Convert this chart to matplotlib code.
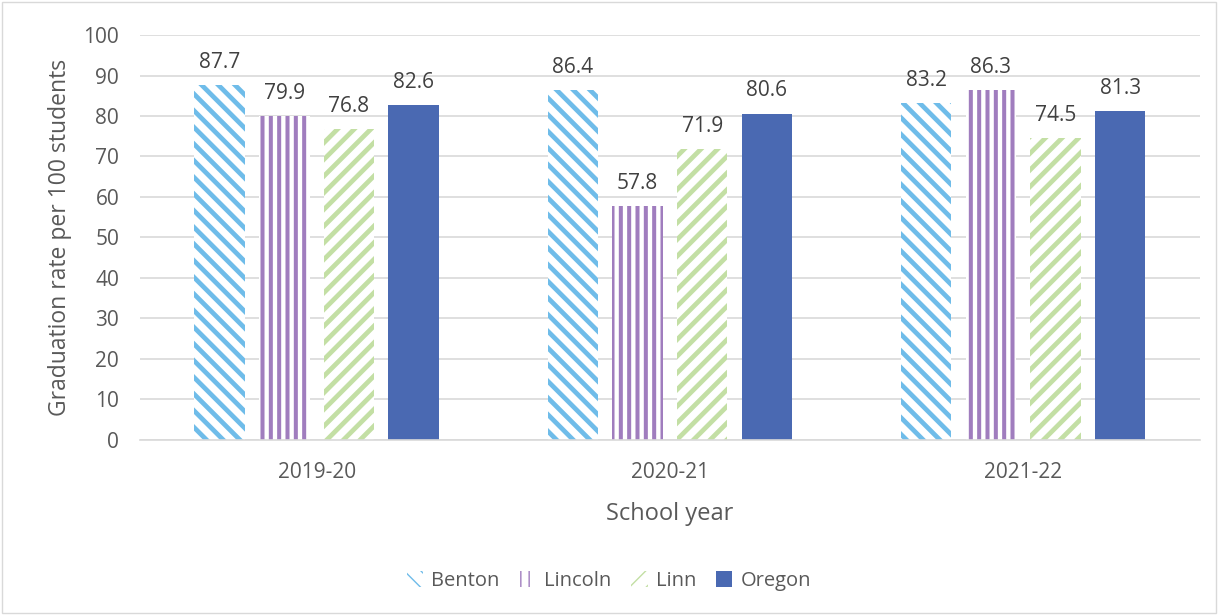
import matplotlib.pyplot as plt
import numpy as np

plt.rcParams['font.family'] = ['Open Sans', 'DejaVu Sans']

# chart data
years = ['2019-20', '2020-21', '2021-22']
counties = ['Benton', 'Lincoln', 'Linn', 'Oregon']
benton = [87.7, 86.4, 83.2]
lincoln = [79.9, 57.8, 86.3]
linn = [76.8, 71.9, 74.5]
oregon = [82.6, 80.6, 81.3]

colors = ['#6FBCE9', '#A07DBE', '#C3DFA4', '#4A69B2']
hatches = ['\\\\', '||', '//', None]
hatch_lw = [3.4, 2.9, 3.4, 1.0]

fig = plt.figure(figsize=(12.18, 6.15), dpi=100)
ax = fig.add_axes([0.115, 0.285, 0.87, 0.658])

x = np.arange(len(years))
slot = 0.183
width = 0.143
series = [benton, lincoln, linn, oregon]
for i, vals in enumerate(series):
    pos = x + (i - 1.5) * slot
    with plt.rc_context({'hatch.linewidth': hatch_lw[i]}):
        if hatches[i] is None:
            bars = ax.bar(pos, vals, width, color=colors[i], label=counties[i], zorder=2)
        else:
            bars = ax.bar(pos, vals, width, facecolor='white', edgecolor=colors[i],
                          hatch=hatches[i], linewidth=0, label=counties[i], zorder=2)
    for b, v in zip(bars, vals):
        ax.text(b.get_x() + b.get_width() / 2, v + 3, f'{v:.1f}', ha='center',
                va='bottom', fontsize=15, color='#404040')

ax.set_ylim(0, 100)
ax.set_xlim(-0.5, 2.5)
ax.set_yticks(range(0, 101, 10))
ax.set_xticks(x)
ax.set_xticklabels(years)
ax.tick_params(length=0, labelsize=15, labelcolor='#595959')
ax.tick_params(axis='y', pad=15)
ax.tick_params(axis='x', pad=16)
ax.yaxis.grid(True, color='#D9D9D9', linewidth=1.2, zorder=0)
for s in ['top', 'right', 'left']:
    ax.spines[s].set_visible(False)
ax.spines['bottom'].set_color('#D9D9D9')
ax.spines['bottom'].set_linewidth(1.2)
ax.set_axisbelow(True)

ax.set_xlabel('School year', fontsize=17, color='#595959', labelpad=14)
ax.set_ylabel('Graduation rate per 100 students', fontsize=16.5, color='#595959', labelpad=8)

fig.legend(loc='center', bbox_to_anchor=(0.5, 0.055), ncol=4, frameon=False,
           fontsize=14.5, labelcolor='#595959', handlelength=0.8, handleheight=0.8,
           handletextpad=0.4, columnspacing=1.0)

# outer chart border
fig.patches.append(plt.Rectangle((0.002, 0.003), 0.996, 0.994, transform=fig.transFigure,
                                 fill=False, edgecolor='#D9D9D9', linewidth=1))

fig.savefig('out.png', dpi=100)
